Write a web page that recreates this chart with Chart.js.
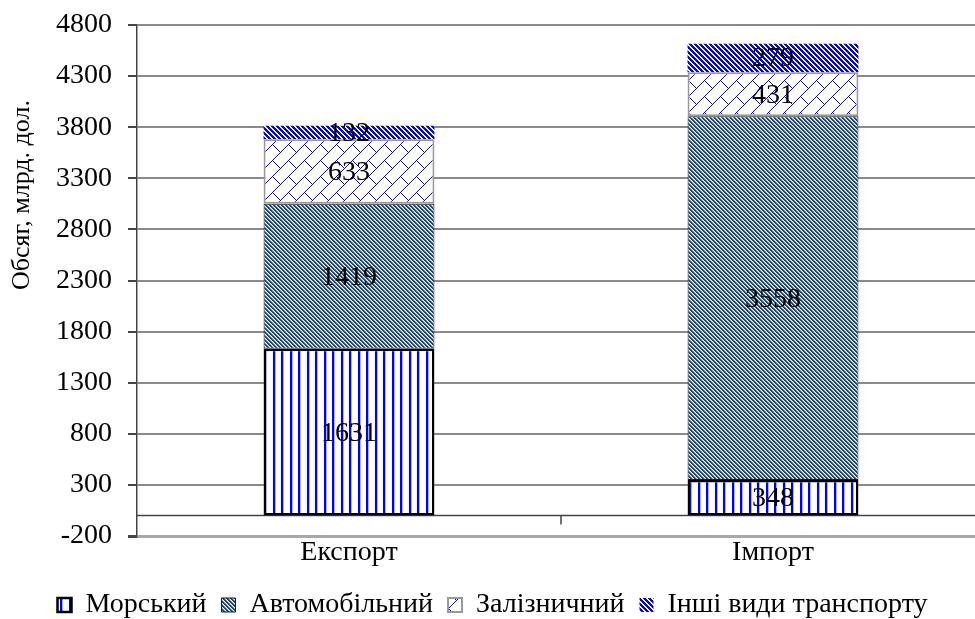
<!DOCTYPE html>
<html>
  <head>
    <meta charset="utf-8" />
    <title>Обсяг перевезень</title>
    <script src="https://cdn.jsdelivr.net/npm/chart.js"></script>
    <style>
      body { margin: 0; overflow: hidden; background: #fff; }
      .grafico { width: 988px; height: 619px; }
    </style>
  </head>

  <body>
    <div class="grafico">
      <canvas id="obsyag"></canvas>
    </div>

    <script>
      // дані
      var kategorii = ["Експорт", "Імпорт"];
      var morskyi = [1631, 348];
      var avtomobilnyi = [1419, 3558];
      var zaliznychnyi = [633, 431];
      var inshi = [132, 279];
      var yTicks = [-200, 300, 800, 1300, 1800, 2300, 2800, 3300, 3800, 4300, 4800];

      var shryft = "'Liberation Serif', 'Times New Roman', serif";
      Chart.defaults.font.family = shryft;
      Chart.defaults.color = "#000";

      var canvas = document.getElementById("obsyag");
      var mainCtx = canvas.getContext("2d");

      // візерунок з пікселів
      function vizerunok(w, h, fn) {
        var c = document.createElement("canvas");
        c.width = w;
        c.height = h;
        var cx = c.getContext("2d");
        var img = cx.createImageData(w, h);
        for (var y = 0; y < h; y++) {
          for (var x = 0; x < w; x++) {
            var col = fn(x, y);
            var i = (y * w + x) * 4;
            img.data[i] = col[0];
            img.data[i + 1] = col[1];
            img.data[i + 2] = col[2];
            img.data[i + 3] = 255;
          }
        }
        cx.putImageData(img, 0, 0);
        return mainCtx.createPattern(c, "repeat");
      }

      var BILYI = [255, 255, 255];
      var SYNII = [0, 0, 255];

      var patMorskyi = vizerunok(17, 1, function (x) {
        var m = x % 17;
        if (m == 1 || m == 2 || m == 9 || m == 10) return SYNII;
        if (m == 3 || m == 11) return [170, 170, 255];
        return BILYI;
      });

      var patAvto = vizerunok(4, 4, function (x, y) {
        var v = (((x - y) % 4) + 4) % 4;
        if (v < 2) return [30, 72, 108];
        if (v == 2) return [150, 170, 190];
        return BILYI;
      });

      // «цеглинки» для залізничного
      var patZaliz = vizerunok(32, 32, function (x, y) {
        var u = x + y;
        var v = (((x - y) % 32) + 32) % 32;
        if (u % 16 == 0) return SYNII;
        var smuga = Math.floor(u / 16) % 2;
        if (v == smuga * 16) return SYNII;
        return BILYI;
      });

      var patInshi = vizerunok(5, 5, function (x, y) {
        var v = (((x - y) % 5) + 5) % 5;
        return v < 3 ? SYNII : BILYI;
      });

      // підписи значень
      var pidpysy = {
        id: "pidpysy",
        afterDatasetsDraw: function (chart) {
          var ctx = chart.ctx;
          ctx.save();
          ctx.font = "28px " + shryft;
          ctx.fillStyle = "#000";
          ctx.textAlign = "center";
          ctx.textBaseline = "middle";
          chart.data.datasets.forEach(function (ds, i) {
            chart.getDatasetMeta(i).data.forEach(function (el, j) {
              ctx.fillText(ds.data[j], el.x, (el.y + el.base) / 2 + 1);
            });
          });
          ctx.restore();
        },
      };

      // нульова лінія, поділка між категоріями і назва осі
      var osi = {
        id: "osi",
        beforeDatasetsDraw: function (chart) {
          var ctx = chart.ctx;
          var a = chart.chartArea;
          var y0 = chart.scales.y.getPixelForValue(0);
          var xs = chart.scales.x;
          var xm = (xs.getPixelForValue(0) + xs.getPixelForValue(1)) / 2;
          ctx.save();
          ctx.strokeStyle = "#444";
          ctx.lineWidth = 1.5;
          ctx.beginPath();
          ctx.moveTo(a.left, y0);
          ctx.lineTo(a.right, y0);
          ctx.moveTo(xm, y0);
          ctx.lineTo(xm, y0 + 9);
          ctx.stroke();
          ctx.restore();
        },
        afterDraw: function (chart) {
          var ctx = chart.ctx;
          ctx.save();
          ctx.translate(22, 195);
          ctx.rotate(-Math.PI / 2);
          ctx.font = "26px " + shryft;
          ctx.fillStyle = "#000";
          ctx.textAlign = "center";
          ctx.textBaseline = "middle";
          ctx.fillText("Обсяг, млрд. дол.", 0, 0);
          ctx.restore();
        },
      };

      var grafik = new Chart(mainCtx, {
        type: "bar",
        data: {
          labels: kategorii,
          datasets: [
            {
              label: "Морський",
              data: morskyi,
              backgroundColor: patMorskyi,
              borderColor: "#000",
              borderWidth: 2.5,
            },
            {
              label: "Автомобільний",
              data: avtomobilnyi,
              backgroundColor: patAvto,
              borderColor: "#1a1a1a",
              borderWidth: 1,
            },
            {
              label: "Залізничний",
              data: zaliznychnyi,
              backgroundColor: patZaliz,
              borderColor: "#9a9a9a",
              borderWidth: 2,
            },
            {
              label: "Інші види транспорту",
              data: inshi,
              backgroundColor: patInshi,
              borderColor: "#ffffff",
              borderWidth: 0,
            },
          ],
        },
        options: {
          responsive: true,
          maintainAspectRatio: false,
          animation: false,
          events: [],
          datasets: {
            bar: {
              barPercentage: 0.403,
              categoryPercentage: 1,
              borderSkipped: false,
            },
          },
          layout: { padding: { top: 25, right: 3, left: 0, bottom: -10 } },
          scales: {
            x: {
              stacked: true,
              grid: { display: false, drawTicks: false },
              border: { display: false },
              ticks: { font: { size: 28 }, padding: 0 },
              afterFit: function (scale) {
                scale.height = 40;
              },
            },
            y: {
              stacked: true,
              min: -200,
              max: 4800,
              afterBuildTicks: function (scale) {
                scale.ticks = yTicks.map(function (v) {
                  return { value: v };
                });
              },
              grid: {
                color: function (c) {
                  return c.tick && c.tick.value == -200 ? "#a8a8a8" : "#8a8a8a";
                },
                lineWidth: function (c) {
                  return c.tick && c.tick.value == -200 ? 3 : 2;
                },
                tickColor: "#444",
                tickLength: 9,
              },
              border: { color: "#444", width: 1.5 },
              ticks: {
                font: { size: 28, lineHeight: 0.6 },
                padding: 16,
                callback: function (v) {
                  return String(v);
                },
              },
              afterFit: function (scale) {
                scale.width = 137;
              },
            },
          },
          plugins: {
            tooltip: { enabled: false },
            legend: {
              position: "bottom",
              labels: {
                font: { size: 28 },
                boxWidth: 14,
                boxHeight: 14,
                padding: 15,
              },
            },
          },
        },
        plugins: [pidpysy, osi],
      });
    </script>
  </body>
</html>
